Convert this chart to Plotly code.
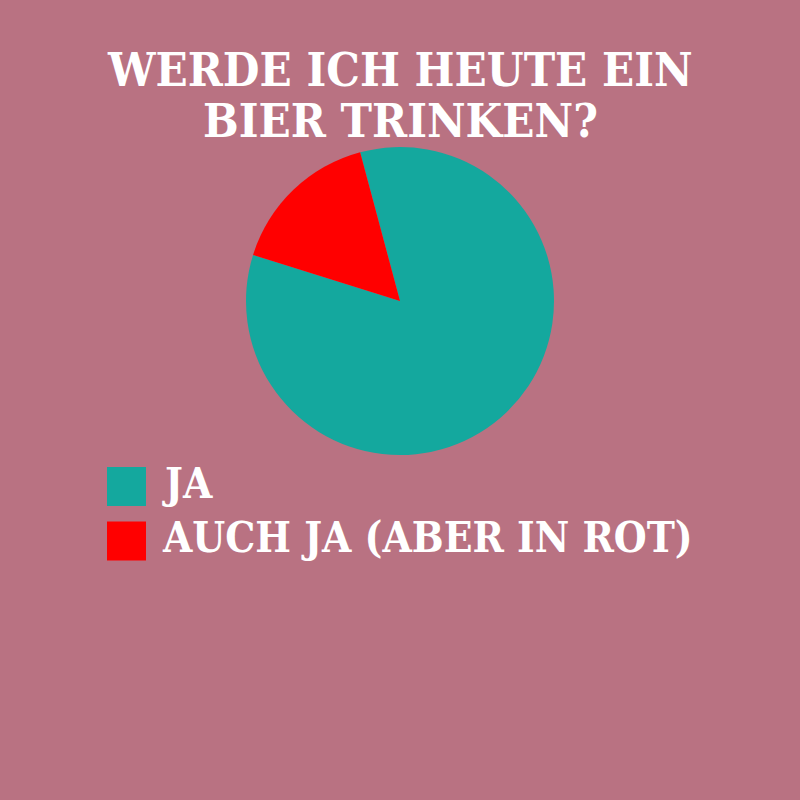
import plotly.graph_objects as go

labels = ["JA", "AUCH JA (ABER IN ROT)"]
values = [84, 16]
colors = ["#14A89E", "#FF0000"]
title_lines = ["WERDE ICH HEUTE EIN", "BIER TRINKEN?"]

BG = "#B97282"
FONT = "DejaVu Serif Condensed, DejaVu Serif, serif"

W = H = 800
cx, cy, r = 400, 301, 154

fig = go.Figure(go.Pie(
    labels=labels, values=values,
    marker=dict(colors=colors, line=dict(width=0)),
    sort=False, direction="counterclockwise", rotation=-15,
    textinfo="none", hoverinfo="label+percent",
    showlegend=False,
    domain=dict(x=[(cx - r) / W, (cx + r) / W], y=[1 - (cy + r) / H, 1 - (cy - r) / H]),
))

shapes = []
annotations = []
box_top = [467, 521.5]
text_y = [483, 537.5]
for lab, col, bt, ty in zip(labels, colors, box_top, text_y):
    shapes.append(dict(type="rect", xref="paper", yref="paper",
                       x0=107 / W, x1=146 / W, y0=1 - (bt + 39) / H, y1=1 - bt / H,
                       fillcolor=col, line=dict(width=0)))
    annotations.append(dict(text=f"<b>{lab}</b>", xref="paper", yref="paper",
                            x=160 / W, y=1 - ty / H, xanchor="left", yanchor="middle",
                            showarrow=False, font=dict(family=FONT, size=42, color="white")))

for line, ly in zip(title_lines, [69.5, 120]):
    annotations.append(dict(text=f"<b>{line}</b>", xref="paper", yref="paper",
                            x=0.5, y=1 - ly / H, xanchor="center", yanchor="middle",
                            showarrow=False, font=dict(family=FONT, size=47, color="white")))

fig.update_layout(
    width=W, height=H,
    margin=dict(l=0, r=0, t=0, b=0),
    paper_bgcolor=BG, plot_bgcolor=BG,
    shapes=shapes, annotations=annotations,
)
fig.write_html(
    "out.html",
    config={"displayModeBar": False},
    post_script=(
        "document.body.style.margin='0';"
        f"document.body.style.background='{BG}';"
        f"document.documentElement.style.background='{BG}';"
    ),
)
